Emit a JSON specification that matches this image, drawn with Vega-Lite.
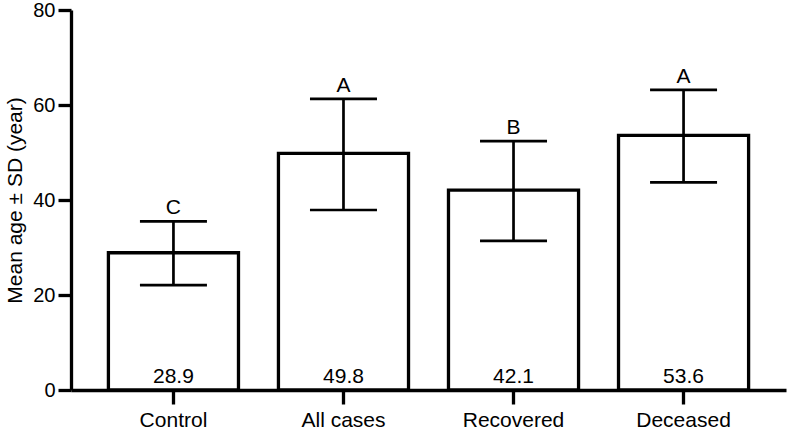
{
  "$schema": "https://vega.github.io/schema/vega-lite/v6.json",
  "width": 715,
  "height": 380,
  "autosize": {"type": "none"},
  "padding": {"left": 71, "top": 10, "right": 1, "bottom": 40},
  "background": "white",
  "config": {
    "view": {"stroke": null},
    "font": "Liberation Sans",
    "axis": {
      "domainColor": "black",
      "tickColor": "black",
      "labelColor": "black",
      "titleColor": "black",
      "grid": false,
      "labelFont": "Liberation Sans",
      "titleFont": "Liberation Sans"
    },
    "axisX": {
      "labelAngle": 0,
      "labelFontSize": 21,
      "labelPadding": 5,
      "tickSize": 14,
      "tickWidth": 3.3,
      "domainWidth": 3.3
    },
    "axisY": {
      "titleFontSize": 21,
      "titleFontWeight": "normal",
      "titlePadding": 7,
      "labelFontSize": 20,
      "labelPadding": 3,
      "tickSize": 13,
      "tickWidth": 3.3,
      "domainWidth": 3.3
    }
  },
  "data": {
    "values": [
      {"group": "Control", "mean": 28.9, "lower": 22.1, "upper": 35.5, "letter": "C"},
      {"group": "All cases", "mean": 49.8, "lower": 37.9, "upper": 61.3, "letter": "A"},
      {"group": "Recovered", "mean": 42.1, "lower": 31.4, "upper": 52.4, "letter": "B"},
      {"group": "Deceased", "mean": 53.6, "lower": 43.7, "upper": 63.2, "letter": "A"}
    ]
  },
  "encoding": {
    "x": {
      "field": "group",
      "type": "nominal",
      "sort": null,
      "scale": {"paddingInner": 0.235, "paddingOuter": 0.22},
      "axis": {"title": null}
    }
  },
  "layer": [
    {
      "mark": {"type": "bar", "fill": "white", "stroke": "black", "strokeWidth": 3.3},
      "encoding": {
        "y": {
          "field": "mean",
          "type": "quantitative",
          "scale": {"domain": [0, 80], "nice": false, "zero": true},
          "axis": {
            "title": "Mean age ± SD (year)",
            "values": [0, 20, 40, 60, 80]
          }
        }
      }
    },
    {
      "mark": {"type": "rule", "color": "black", "strokeWidth": 2.7, "opacity": 1},
      "encoding": {
        "y": {"field": "lower", "type": "quantitative"},
        "y2": {"field": "upper"}
      }
    },
    {
      "mark": {"type": "tick", "color": "black", "size": 67, "thickness": 2.7, "orient": "horizontal", "opacity": 1},
      "encoding": {"y": {"field": "upper", "type": "quantitative"}}
    },
    {
      "mark": {"type": "tick", "color": "black", "size": 67, "thickness": 2.7, "orient": "horizontal", "opacity": 1},
      "encoding": {"y": {"field": "lower", "type": "quantitative"}}
    },
    {
      "mark": {"type": "text", "fontSize": 21, "baseline": "alphabetic", "dy": -7, "color": "black"},
      "encoding": {
        "y": {"field": "upper", "type": "quantitative"},
        "text": {"field": "letter"}
      }
    },
    {
      "mark": {"type": "text", "fontSize": 21, "baseline": "alphabetic", "dy": -7, "color": "black"},
      "encoding": {
        "y": {"datum": 0, "type": "quantitative"},
        "text": {"field": "mean", "format": ".1f"}
      }
    }
  ]
}
